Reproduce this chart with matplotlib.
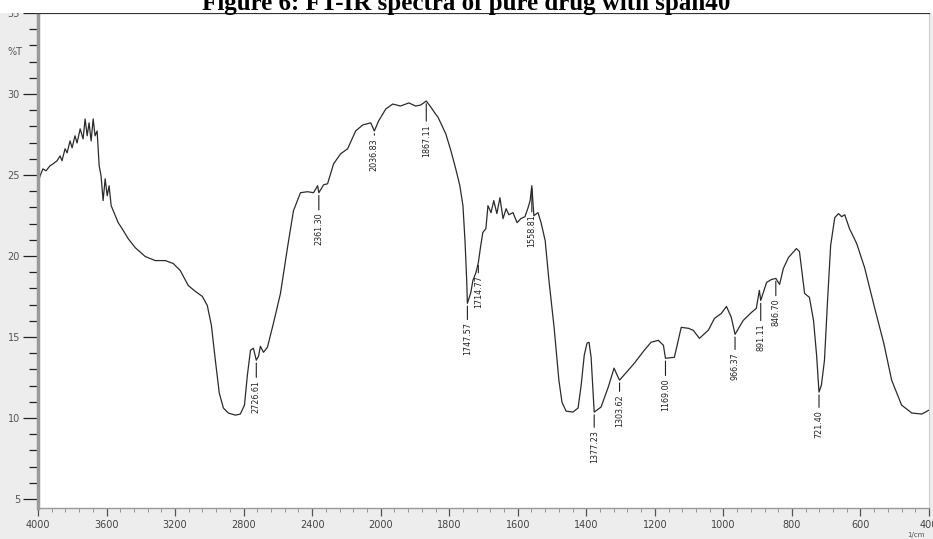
import numpy as np
import matplotlib.pyplot as plt
from matplotlib.patches import Rectangle

# FT-IR spectrum, wavenumber (1/cm) and %T
wavenumber = [4000, 3988, 3971, 3953, 3930, 3912, 3889, 3871, 3860, 3842,
              3830, 3813, 3801, 3784, 3772, 3754, 3737, 3725, 3713, 3702,
              3690, 3678, 3667, 3655, 3643, 3632, 3620, 3608, 3596, 3585,
              3573, 3556, 3532, 3509, 3474, 3433, 3374, 3316, 3257, 3211,
              3170, 3123, 3082, 3041, 3012, 2988, 2965, 2942, 2918, 2889,
              2848, 2819, 2795, 2778, 2760, 2743, 2726, 2713, 2702, 2684,
              2661, 2626, 2585, 2544, 2509, 2468, 2427, 2392, 2368, 2361,
              2333, 2310, 2275, 2234, 2193, 2146, 2105, 2058, 2037, 2012,
              1985, 1965, 1942, 1918, 1898, 1883, 1867, 1854, 1842, 1833,
              1822, 1810, 1795, 1781, 1769, 1760, 1754, 1749, 1747, 1737,
              1731, 1722, 1715, 1708, 1702, 1693, 1687, 1678, 1670, 1661,
              1652, 1643, 1634, 1626, 1614, 1602, 1591, 1579, 1570, 1564,
              1559, 1553, 1541, 1532, 1520, 1509, 1494, 1480, 1471, 1459,
              1439, 1424, 1415, 1406, 1398, 1392, 1386, 1380, 1377, 1357,
              1336, 1319, 1310, 1303, 1278, 1260, 1231, 1211, 1190, 1175,
              1169, 1143, 1123, 1102, 1088, 1070, 1044, 1026, 1006, 991,
              977, 966, 942, 918, 904, 895, 891, 874, 860, 847,
              836, 825, 810, 787, 778, 763, 749, 737, 728, 721,
              714, 705, 696, 687, 675, 664, 655, 646, 632, 611,
              588, 559, 532, 509, 480, 450, 421, 400]
transmittance = [24.46, 24.95, 25.38, 25.26, 25.57, 25.69, 25.88, 26.18, 25.88, 26.62,
                 26.37, 27.11, 26.68, 27.42, 26.98, 27.85, 27.23, 28.46, 27.42, 28.22,
                 27.11, 28.46, 27.42, 27.72, 25.57, 24.95, 23.42, 24.77, 23.72, 24.34,
                 23.11, 22.68, 22.06, 21.69, 21.08, 20.52, 19.97, 19.72, 19.72, 19.54,
                 19.11, 18.18, 17.82, 17.51, 16.95, 15.72, 13.57, 11.54, 10.62, 10.31,
                 10.18, 10.25, 10.80, 12.65, 14.18, 14.31, 13.57, 13.82, 14.43, 14.06,
                 14.37, 15.85, 17.69, 20.52, 22.80, 23.91, 23.97, 23.91, 24.34, 23.91,
                 24.40, 24.46, 25.69, 26.31, 26.62, 27.72, 28.09, 28.22, 27.72, 28.34,
                 29.08, 29.38, 29.26, 29.45, 29.26, 29.32, 29.57, 29.20, 28.83, 28.58,
                 28.09, 27.54, 26.49, 25.38, 24.34, 23.11, 20.95, 18.49, 17.08, 17.75,
                 18.49, 18.98, 19.60, 20.65, 21.45, 21.69, 23.11, 22.68, 23.42, 22.62,
                 23.60, 22.31, 22.92, 22.55, 22.68, 22.06, 22.31, 22.43, 22.98, 23.42,
                 24.34, 22.49, 22.68, 22.06, 20.95, 18.49, 15.60, 12.34, 10.98, 10.43,
                 10.37, 10.62, 12.03, 13.88, 14.62, 14.68, 13.75, 11.50, 10.37, 10.68,
                 11.91, 13.08, 12.65, 12.34, 12.95, 13.38, 14.18, 14.68, 14.80, 14.49,
                 13.69, 13.75, 15.60, 15.54, 15.42, 14.92, 15.42, 16.15, 16.46, 16.89,
                 16.22, 15.17, 16.03, 16.52, 16.77, 17.88, 17.26, 18.37, 18.55, 18.62,
                 18.25, 19.23, 19.91, 20.46, 20.28, 17.69, 17.45, 16.03, 13.88, 11.60,
                 12.03, 13.57, 17.26, 20.65, 22.37, 22.62, 22.43, 22.55, 21.69, 20.77,
                 19.29, 16.83, 14.62, 12.34, 10.80, 10.31, 10.25, 10.49]

peak_labels = ['2726.61', '2361.30', '2036.83', '1867.11', '1747.57', '1714.77',
               '1558.81', '1377.23', '1303.62', '1169.00', '966.37', '891.11',
               '846.70', '721.40']
peak_positions = [2726, 2361, 2037, 1867, 1747, 1715, 1559, 1377, 1303, 1169,
                  966, 891, 847, 721]
# length of the leader line below each peak, in pixels
drop_px = [17, 17, 4, 20, 16, 10, 26, 15, 11, 17, 15, 20, 17, 15]

xtick_values = [4000, 3600, 3200, 2800, 2400, 2000, 1800, 1600, 1400, 1200, 1000, 800, 600, 400]
ytick_values = [5, 10, 15, 20, 25, 30, 35]


def fwd(w):
    w = np.asarray(w, dtype=float)
    return np.where(w <= 2000, w / 200.0, 10 + (w - 2000) / 400.0)


def inv(p):
    p = np.asarray(p, dtype=float)
    return np.where(p <= 10, p * 200.0, 2000 + (p - 10) * 400.0)


W, H = 933, 539
fig = plt.figure(figsize=(W / 100, H / 100), dpi=100, facecolor='#ededed')
fig.patches.append(Rectangle((0, (H - 13) / H), 1, 13 / H, transform=fig.transFigure,
                             facecolor='white', edgecolor='none', zorder=0))

ax = fig.add_axes([38 / W, (H - 508) / H, (929 - 38) / W, (508 - 13) / H])
ax.set_facecolor('white')
ax.set_xscale('function', functions=(fwd, inv))
ax.set_xlim(4000, 400)
ax.set_ylim(4.45, 35)

ax.plot(wavenumber, transmittance, color='#2b2b2b', lw=0.9)

# peak markers
wn_rev = np.array(wavenumber)[::-1]
tr_rev = np.array(transmittance)[::-1]
for lab, w, d in zip(peak_labels, peak_positions, drop_px):
    t = np.interp(w, wn_rev, tr_rev)
    ax.annotate(lab, xy=(w, t), xytext=(0, -(d + 3) * 0.72), textcoords='offset points',
                rotation=90, ha='center', va='top', fontsize=5.8, color='#222222',
                arrowprops=dict(arrowstyle='-', lw=0.8, color='#222222',
                                shrinkA=0, shrinkB=2))

# axes styling
ax.set_xticks(xtick_values)
ax.set_xticklabels([str(v) for v in xtick_values])
minor_x = [v for v in range(4000, 2000, -80)] + [v for v in range(2000, 399, -40)]
ax.set_xticks(minor_x, minor=True)
ax.set_yticks(ytick_values)
ax.set_yticklabels([str(v) for v in ytick_values])
ax.set_yticks(np.arange(5, 36, 1), minor=True)

ax.tick_params(axis='x', which='major', direction='out', length=6, width=0.9,
               color='#555555', labelsize=7, labelcolor='#444444', pad=3)
ax.tick_params(axis='x', which='minor', direction='out', length=3, width=0.6, color='#888888')
ax.tick_params(axis='y', which='major', direction='out', length=11, width=0.9,
               color='#222222', labelsize=7, labelcolor='#555555', pad=2)
ax.tick_params(axis='y', which='minor', direction='out', length=6.5, width=0.9, color='#222222')

ax.spines['top'].set_color('#333333')
ax.spines['top'].set_linewidth(1.6)
ax.spines['left'].set_color('#9a9a9a')
ax.spines['left'].set_linewidth(2.5)
ax.spines['bottom'].set_color('#9a9a9a')
ax.spines['bottom'].set_linewidth(1.0)
ax.spines['right'].set_color('#cccccc')
ax.spines['right'].set_linewidth(0.8)

fig.text(8 / W, 1 - 52 / H, '%T', fontsize=7, color='#555555', va='center')
fig.text(916 / W, 1 - 535 / H, '1/cm', fontsize=5, color='#555555', ha='center', va='center')

fig.text(0.5, 1 - 10 / H, 'Figure 6: FT-IR spectra of pure drug with span40',
         ha='center', va='baseline', fontsize=18, fontweight='bold',
         family='Liberation Serif', color='black')

fig.savefig('out.png', dpi=100, facecolor=fig.get_facecolor())
